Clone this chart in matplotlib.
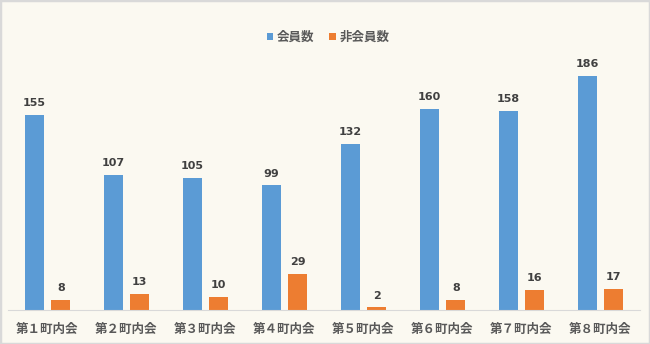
import matplotlib
matplotlib.use("Agg")
import matplotlib.pyplot as plt
import numpy as np

plt.rcParams['font.family'] = ['Noto Sans CJK JP', 'DejaVu Sans']

categories = ["第１町内会", "第２町内会", "第３町内会", "第４町内会", "第５町内会", "第６町内会", "第７町内会", "第８町内会"]
members = [155, 107, 105, 99, 132, 160, 158, 186]
nonmembers = [8, 13, 10, 29, 2, 8, 16, 17]
series_names = ["会員数", "非会員数"]

W, H = 650, 344
fig = plt.figure(figsize=(W/100, H/100), dpi=100, facecolor="#FBF9F1")
fig.patches.append(plt.Rectangle((0, 0), 1, 1, transform=fig.transFigure, fill=False,
                                 edgecolor="#D9D9D9", linewidth=2.5))
left, right = 8/W, 640/W
bottom, top = (H-310)/H, (H-58.4)/H
ax = fig.add_axes([left, bottom, right-left, top-bottom])
ax.set_facecolor("#FBF9F1")

x = np.arange(len(categories))
bw = 0.24
off = 0.168
b1 = ax.bar(x - off, members, bw, color="#5B9BD5", label=series_names[0])
b2 = ax.bar(x + off, nonmembers, bw, color="#ED7D31", label=series_names[1])
for bars, vals in ((b1, members), (b2, nonmembers)):
    for r, v in zip(bars, vals):
        ax.annotate(str(v), (r.get_x() + r.get_width()/2, v), xytext=(0, 5),
                    textcoords="offset points", ha="center", va="bottom",
                    fontsize=8, fontweight="bold", color="#404040",
                    family=['DejaVu Sans'])

ax.set_xlim(-0.5, len(categories) - 0.5)
ax.set_ylim(0, 200)
ax.set_yticks([])
ax.set_xticks(x)
ax.set_xticklabels(categories, fontsize=9, color="#595959", fontweight="bold")
ax.tick_params(axis='x', length=0, pad=9)
for s in ("top", "right", "left"):
    ax.spines[s].set_visible(False)
ax.spines["bottom"].set_color("#D9D9D9")

leg = fig.legend(loc="center", bbox_to_anchor=(328/W, 1 - 37/H), ncol=2, frameon=False,
                 prop={'size': 9, 'weight': 'bold'}, handlelength=0.5, handleheight=0.5,
                 handletextpad=0.3, columnspacing=1.2)
for t in leg.get_texts():
    t.set_color("#595959")

fig.savefig("out.png", dpi=100, facecolor=fig.get_facecolor())
